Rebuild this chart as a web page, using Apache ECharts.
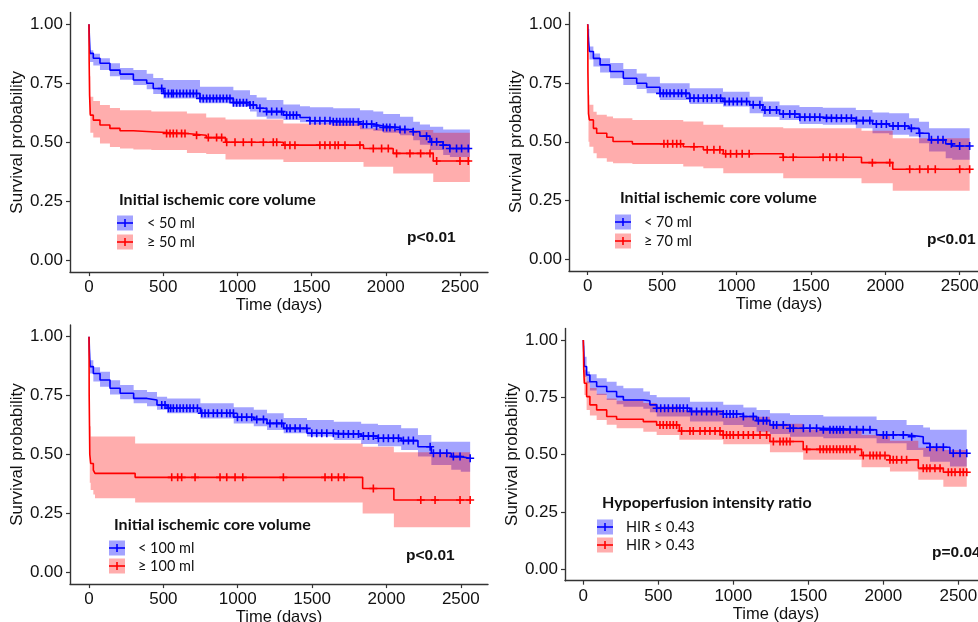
<!DOCTYPE html>
<html>
<head>
<meta charset="utf-8">
<script src="https://cdn.jsdelivr.net/npm/echarts@6/dist/echarts.min.js"></script>
<style>
  html, body { margin: 0; padding: 0; background: #ffffff; }
  #chart { width: 978px; height: 622px; }
</style>
</head>
<body>
<div id="chart"></div>
<script>
// ---------------- DATA ----------------
const xTicks = [0, 500, 1000, 1500, 2000, 2500];
const yTicks = [0, 0.25, 0.5, 0.75, 1];
const xTitle = 'Time (days)';
const yTitle = 'Survival probability';

// Kaplan–Meier steps: [time (days), survival, lower CI, upper CI]
const p1Low = [
  [0,1,1,1],[2,0.955,0.93,0.975],[7,0.877,0.84,0.89],[29,0.856,0.825,0.875],[74,0.835,0.806,0.856],
  [141,0.806,0.78,0.835],[209,0.789,0.765,0.815],[299,0.764,0.743,0.806],[389,0.75,0.725,0.79],
  [433,0.728,0.705,0.772],[501,0.707,0.686,0.764],[748,0.686,0.665,0.735],[973,0.668,0.651,0.721],
  [1085,0.658,0.63,0.70],[1130,0.644,0.608,0.69],[1197,0.63,0.60,0.679],[1310,0.615,0.594,0.66],
  [1422,0.605,0.585,0.653],[1489,0.591,0.577,0.648],[1646,0.587,0.569,0.644],[1826,0.577,0.555,0.636],
  [1916,0.569,0.549,0.63],[1983,0.563,0.54,0.62],[2096,0.554,0.53,0.608],[2185,0.545,0.509,0.587],
  [2230,0.526,0.49,0.575],[2298,0.502,0.467,0.566],[2387,0.488,0.446,0.554],[2432,0.474,0.438,0.554],
  [2567,0.474,0.438,0.554]
];
const p1High = [
  [0,1,1,1],[1,0.85,0.8,0.9],[4,0.7,0.62,0.78],[9,0.615,0.54,0.693],[29,0.594,0.52,0.675],
  [74,0.573,0.495,0.658],[141,0.559,0.48,0.645],[209,0.549,0.474,0.636],[299,0.545,0.47,0.636],
  [420,0.537,0.467,0.63],[660,0.530,0.455,0.622],[790,0.52,0.45,0.605],[920,0.50,0.427,0.597],
  [1310,0.488,0.417,0.58],[1850,0.474,0.396,0.559],[2050,0.453,0.368,0.552],[2320,0.421,0.332,0.54],
  [2567,0.421,0.332,0.54]
];
const p1LowCens = [490,512,535,557,568,591,613,636,658,681,703,725,748,770,793,815,838,860,883,905,928,950,973,995,1017,1040,1062,1085,1107,1152,1197,1231,1265,1298,1332,1354,1377,1399,1489,1523,1556,1590,1624,1646,1669,1691,1714,1736,1759,1781,1815,1848,1871,1905,1938,1983,2006,2028,2062,2096,2129,2185,2275,2309,2343,2387,2432,2477,2511,2556];
const p1HighCens = [523,546,568,591,624,647,725,804,860,894,928,984,1040,1096,1175,1242,1265,1321,1354,1388,1556,1590,1624,1658,1680,1725,1826,1916,1972,2017,2073,2163,2235,2298,2343,2500,2556];

const p2Low = [
  [0,1,1,1],[2,0.96,0.935,0.98],[11,0.884,0.85,0.905],[38,0.855,0.82,0.876],[83,0.827,0.795,0.855],
  [150,0.799,0.77,0.835],[239,0.77,0.742,0.81],[329,0.749,0.725,0.79],[396,0.732,0.706,0.777],
  [485,0.706,0.678,0.749],[685,0.685,0.661,0.728],[909,0.671,0.65,0.713],[1088,0.657,0.621,0.692],
  [1177,0.635,0.606,0.671],[1289,0.618,0.593,0.655],[1423,0.604,0.576,0.648],[1580,0.600,0.572,0.645],
  [1802,0.590,0.557,0.635],[1914,0.576,0.536,0.625],[2026,0.567,0.53,0.621],[2160,0.557,0.522,0.60],
  [2227,0.536,0.494,0.585],[2294,0.508,0.458,0.557],[2406,0.491,0.43,0.557],[2450,0.482,0.423,0.557],
  [2567,0.482,0.423,0.557]
];
const p2High = [
  [0,1,1,1],[1,0.8,0.72,0.88],[5,0.62,0.5,0.7],[11,0.593,0.479,0.657],[38,0.557,0.451,0.628],
  [60,0.536,0.43,0.615],[128,0.519,0.415,0.607],[170,0.501,0.409,0.60],[300,0.491,0.405,0.593],
  [642,0.479,0.395,0.586],[777,0.466,0.387,0.572],[911,0.449,0.366,0.562],[1314,0.434,0.345,0.557],
  [1840,0.411,0.323,0.547],[2050,0.383,0.292,0.515],[2567,0.383,0.292,0.515]
];
const p2LowCens = [486,508,530,553,580,609,631,660,687,714,743,777,803,833,866,893,922,951,978,1005,1034,1068,1112,1157,1191,1224,1269,1314,1358,1392,1426,1459,1493,1526,1560,1605,1638,1672,1705,1739,1772,1806,1851,1896,1940,1974,2007,2052,2086,2131,2175,2231,2310,2354,2388,2444,2500,2567];
const p2HighCens = [512,537,571,598,624,714,803,848,888,927,960,1000,1038,1085,1314,1381,1582,1627,1672,1717,1913,2030,2164,2231,2287,2336,2500,2567];

const p3Low = [
  [0,1,1,1],[2,0.95,0.92,0.975],[7,0.873,0.844,0.9],[29,0.844,0.81,0.87],[74,0.816,0.788,0.851],
  [141,0.781,0.755,0.815],[209,0.76,0.735,0.795],[300,0.738,0.717,0.774],[390,0.731,0.705,0.765],
  [457,0.71,0.69,0.745],[525,0.696,0.675,0.738],[749,0.675,0.653,0.717],[973,0.658,0.632,0.70],
  [1108,0.649,0.62,0.69],[1197,0.632,0.604,0.675],[1309,0.611,0.59,0.655],[1466,0.59,0.576,0.646],
  [1646,0.587,0.562,0.639],[1830,0.578,0.545,0.630],[1943,0.569,0.535,0.625],[2099,0.559,0.519,0.611],
  [2212,0.533,0.491,0.583],[2302,0.505,0.455,0.554],[2436,0.491,0.435,0.554],[2500,0.484,0.427,0.554],
  [2563,0.484,0.427,0.554]
];
const p3High = [
  [0,1,1,1],[1,0.75,0.62,0.86],[5,0.5,0.38,0.62],[11,0.462,0.349,0.576],[29,0.434,0.33,0.576],
  [40,0.42,0.314,0.576],[310,0.403,0.296,0.547],[1840,0.356,0.25,0.533],[2050,0.307,0.191,0.51],
  [2563,0.307,0.191,0.51]
];
const p3LowCens = [489,511,534,549,567,590,612,634,657,679,702,729,758,780,803,836,863,892,926,948,971,998,1027,1060,1094,1128,1173,1217,1262,1296,1330,1352,1386,1419,1464,1498,1531,1565,1599,1643,1677,1711,1744,1778,1812,1845,1879,1912,1946,1980,2013,2047,2081,2114,2148,2181,2294,2316,2361,2406,2450,2495,2563];
const p3HighCens = [556,596,623,713,881,926,982,1034,1307,1587,1632,1677,1715,1912,2231,2327,2495,2563];

const p4Low = [
  [0,1,1,1],[3,0.95,0.93,0.975],[7,0.884,0.84,0.927],[22,0.847,0.811,0.862],[44,0.818,0.78,0.85],
  [89,0.797,0.76,0.833],[156,0.775,0.738,0.818],[222,0.753,0.72,0.80],[267,0.738,0.709,0.789],
  [400,0.735,0.70,0.775],[444,0.717,0.685,0.76],[489,0.702,0.666,0.75],[711,0.688,0.644,0.731],
  [933,0.677,0.629,0.717],[1067,0.666,0.62,0.705],[1155,0.648,0.60,0.695],[1244,0.629,0.59,0.68],
  [1378,0.615,0.578,0.673],[1600,0.608,0.571,0.666],[1955,0.586,0.549,0.651],[2155,0.578,0.52,0.629],
  [2266,0.549,0.491,0.618],[2311,0.532,0.469,0.608],[2444,0.506,0.448,0.608],[2556,0.506,0.448,0.608]
];
const p4High = [
  [0,1,1,1],[3,0.869,0.82,0.92],[7,0.811,0.76,0.87],[22,0.753,0.695,0.82],[44,0.717,0.67,0.79],
  [89,0.695,0.651,0.765],[156,0.666,0.63,0.745],[222,0.654,0.615,0.735],[400,0.644,0.60,0.725],
  [489,0.629,0.585,0.71],[640,0.603,0.565,0.695],[933,0.586,0.545,0.665],[1244,0.557,0.51,0.635],
  [1466,0.523,0.477,0.61],[1855,0.496,0.445,0.585],[2044,0.477,0.426,0.56],[2233,0.44,0.39,0.53],
  [2400,0.423,0.36,0.52],[2556,0.423,0.353,0.52]
];
const p4LowCens = [489,516,542,567,596,622,644,667,693,722,755,789,822,855,889,933,955,978,1000,1022,1067,1133,1167,1200,1222,1267,1289,1333,1378,1400,1467,1511,1555,1600,1644,1667,1689,1711,1733,1778,1822,1866,1911,2000,2022,2066,2133,2189,2311,2355,2400,2466,2511,2556];
const p4HighCens = [511,533,556,578,600,622,655,711,733,778,811,844,878,911,933,955,978,1000,1033,1067,1100,1133,1178,1222,1267,1311,1333,1355,1378,1489,1578,1600,1622,1644,1667,1689,1711,1733,1755,1778,1811,1866,1911,1933,1955,1978,2011,2044,2066,2089,2122,2155,2266,2289,2311,2344,2378,2433,2455,2478,2511,2533,2556];

const legendTitles = ['Initial ischemic core volume', 'Initial ischemic core volume', 'Initial ischemic core volume', 'Hypoperfusion intensity ratio'];
const legendLabels = [['< 50 ml', '\u2265 50 ml'], ['< 70 ml', '\u2265 70 ml'], ['< 100 ml', '\u2265 100 ml'], ['HIR \u2264 0.43', 'HIR > 0.43']];
const pValues = ['p<0.01', 'p<0.01', 'p<0.01', 'p=0.04'];

// ---------------- LAYOUT / STYLE ----------------
const panelData = [
  { low: p1Low, high: p1High, lowC: p1LowCens, highC: p1HighCens },
  { low: p2Low, high: p2High, lowC: p2LowCens, highC: p2HighCens },
  { low: p3Low, high: p3High, lowC: p3LowCens, highC: p3HighCens },
  { low: p4Low, high: p4High, lowC: p4LowCens, highC: p4HighCens }
];
const layout = [
  { left: 70,  top: 12.5,  width: 418, height: 259.6, xmin: -128, xmax: 2689,
    leg: { tx: 119, ty: 200, bx: 117, r1: 223, r2: 242, lx: 147, px: 407, py: 238 } },
  { left: 569, top: 12.5,  width: 420, height: 258.5, xmin: -126, xmax: 2697,
    leg: { tx: 620, ty: 198, bx: 615, r1: 222, r2: 241, lx: 644, px: 927, py: 240 } },
  { left: 70,  top: 324.9, width: 418, height: 259.2, xmin: -128, xmax: 2683,
    leg: { tx: 114, ty: 525, bx: 109, r1: 548, r2: 566, lx: 138, px: 406, py: 556 } },
  { left: 565, top: 328.5, width: 422, height: 252.2, xmin: -122, xmax: 2691,
    leg: { tx: 602, ty: 503, bx: 597, r1: 527, r2: 545, lx: 626, px: 932, py: 553 } }
];
const BLUE = '#0000FF', RED = '#FF0000';
const BLUE_BAND = 'rgba(0,0,255,0.36)', RED_BAND = 'rgba(255,0,0,0.32)';
const AXIS_COLOR = '#333333';
const TEXT_COLOR = '#111111';
const AX_FONT = 'Liberation Sans, Arial, sans-serif';
const LEG_FONT = 'Lato, Open Sans, sans-serif';
const PLUS = 'path://M4,0H6V4H10V6H6V10H4V6H0V4H4Z';

function survAt(curve, t) {
  let v = curve[0][1];
  for (const p of curve) { if (p[0] <= t) v = p[1]; else break; }
  return v;
}

// step-shaped confidence band polygon, positioned through the axis scales
function bandRenderer(curve, fill) {
  return function (params, api) {
    const pts = [];
    const n = curve.length;
    for (let k = 0; k < n; k++) {
      const tNext = k < n - 1 ? curve[k + 1][0] : curve[k][0];
      pts.push(api.coord([curve[k][0], curve[k][3]]));
      pts.push(api.coord([tNext, curve[k][3]]));
    }
    for (let k = n - 1; k >= 0; k--) {
      const tNext = k < n - 1 ? curve[k + 1][0] : curve[k][0];
      pts.push(api.coord([tNext, curve[k][2]]));
      pts.push(api.coord([curve[k][0], curve[k][2]]));
    }
    return { type: 'polygon', shape: { points: pts }, style: { fill: fill, stroke: null } };
  };
}

const grids = [], xAxes = [], yAxes = [], series = [], graphics = [];

layout.forEach((L, i) => {
  grids.push({ left: L.left, top: L.top, width: L.width, height: L.height, containLabel: false, outerBoundsMode: 'none' });
  xAxes.push({
    type: 'value', gridIndex: i, min: L.xmin, max: L.xmax,
    name: xTitle, nameLocation: 'middle', nameGap: 22,
    nameTextStyle: { fontFamily: AX_FONT, fontSize: 16.5, color: TEXT_COLOR },
    axisLine: { show: true, onZero: false, lineStyle: { color: AXIS_COLOR, width: 1.4 } },
    axisTick: { show: true, length: 4, customValues: xTicks, lineStyle: { color: AXIS_COLOR, width: 1.2 } },
    axisLabel: { show: true, customValues: xTicks, margin: 7, fontFamily: AX_FONT, fontSize: 17, color: TEXT_COLOR,
      formatter: v => String(v) },
    splitLine: { show: false }
  });
  yAxes.push({
    type: 'value', gridIndex: i, min: -0.05, max: 1.05,
    name: yTitle, nameLocation: 'middle', nameGap: 37,
    nameTextStyle: { fontFamily: AX_FONT, fontSize: 17, color: TEXT_COLOR },
    axisLine: { show: true, onZero: false, lineStyle: { color: AXIS_COLOR, width: 1.4 } },
    axisTick: { show: true, length: 4, customValues: yTicks, lineStyle: { color: AXIS_COLOR, width: 1.2 } },
    axisLabel: { show: true, customValues: yTicks, margin: 7, fontFamily: AX_FONT, fontSize: 17, color: TEXT_COLOR,
      formatter: v => v.toFixed(2) },
    splitLine: { show: false }
  });

  const D = panelData[i];
  const groups = [
    { curve: D.low, cens: D.lowC, color: BLUE, band: BLUE_BAND },
    { curve: D.high, cens: D.highC, color: RED, band: RED_BAND }
  ];
  // confidence bands
  groups.forEach(g => {
    series.push({
      type: 'custom', coordinateSystem: 'cartesian2d', xAxisIndex: i, yAxisIndex: i, silent: true, z: 1,
      data: [[g.curve[0][0], g.curve[0][1]]],
      renderItem: bandRenderer(g.curve, g.band)
    });
  });
  // survival curves
  groups.forEach(g => {
    series.push({
      type: 'line', xAxisIndex: i, yAxisIndex: i, step: 'end', symbol: 'none', silent: true,
      data: g.curve.map(p => [p[0], p[1]]), lineStyle: { color: g.color, width: 1.6 }, z: 3
    });
  });
  // censor marks
  groups.forEach(g => {
    series.push({
      type: 'scatter', xAxisIndex: i, yAxisIndex: i, symbol: PLUS, symbolSize: 8, silent: true,
      data: g.cens.map(t => [t, survAt(g.curve, t)]), itemStyle: { color: g.color, opacity: 1 }, z: 4
    });
  });

  // legend (drawn like ggplot's legend)
  const G = L.leg;
  graphics.push({ type: 'text', z: 10, x: G.tx, y: G.ty, style: { text: legendTitles[i], fontFamily: LEG_FONT, fontWeight: 'bold', fontSize: 16, fill: '#111', align: 'left', verticalAlign: 'middle' } });
  [[G.r1, BLUE, BLUE_BAND], [G.r2, RED, RED_BAND]].forEach((r, k) => {
    const [ry, c, b] = r;
    graphics.push({ type: 'rect', z: 10, shape: { x: G.bx, y: ry - 7.5, width: 16, height: 15 }, style: { fill: b } });
    graphics.push({ type: 'line', z: 10, shape: { x1: G.bx, y1: ry, x2: G.bx + 16, y2: ry }, style: { stroke: c, lineWidth: 1.6 } });
    graphics.push({ type: 'line', z: 10, shape: { x1: G.bx + 8, y1: ry - 4, x2: G.bx + 8, y2: ry + 4 }, style: { stroke: c, lineWidth: 1.6 } });
    graphics.push({ type: 'text', z: 10, x: G.lx, y: ry, style: { text: legendLabels[i][k], fontFamily: LEG_FONT, fontSize: 14.5, fill: '#111', align: 'left', verticalAlign: 'middle' } });
  });
  graphics.push({ type: 'text', z: 10, x: G.px, y: G.py, style: { text: pValues[i], fontFamily: AX_FONT, fontWeight: 'bold', fontSize: 15.5, fill: '#111', align: 'left', verticalAlign: 'middle' } });
});

const chart = echarts.init(document.getElementById('chart'), null, { renderer: 'canvas' });
chart.setOption({
  animation: false,
  backgroundColor: '#ffffff',
  grid: grids,
  xAxis: xAxes,
  yAxis: yAxes,
  series: series,
  graphic: graphics
});
</script>
</body>
</html>
